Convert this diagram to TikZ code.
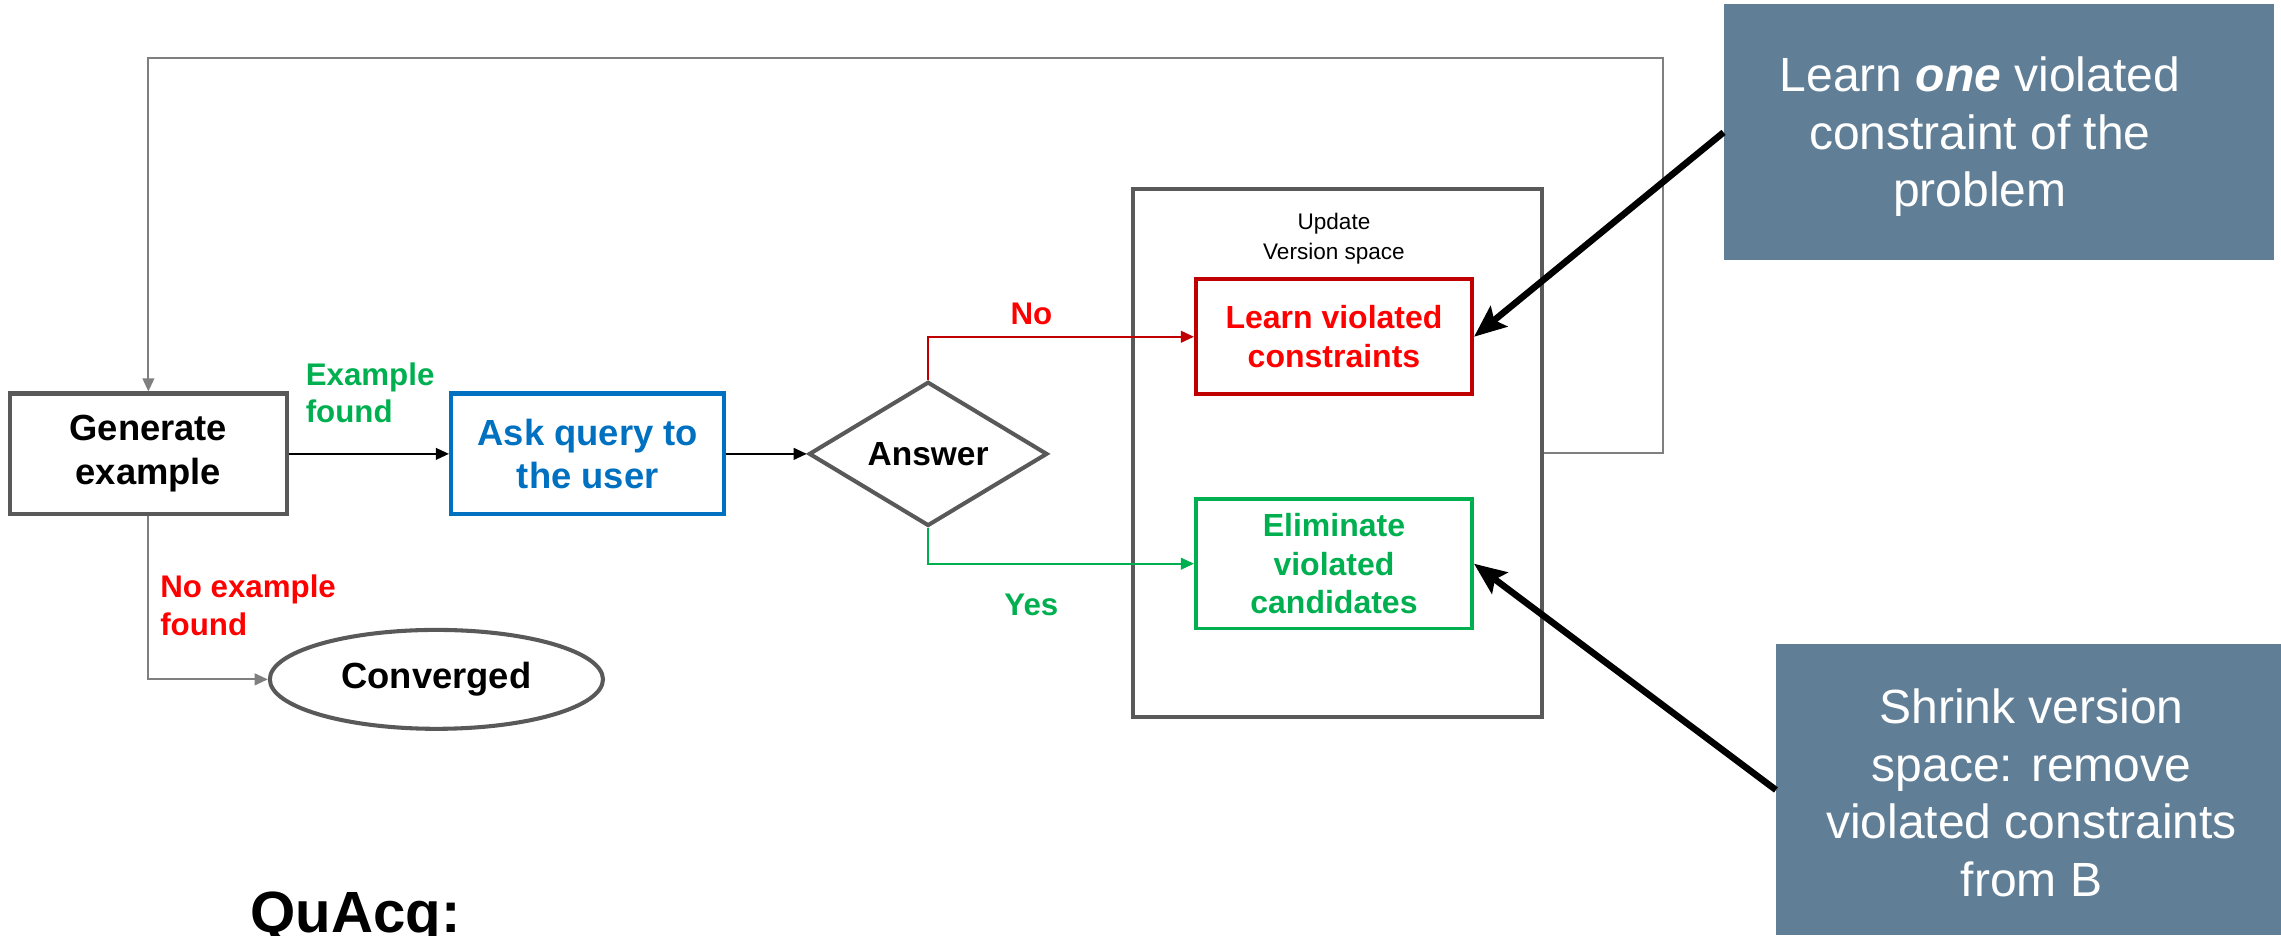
\documentclass[tikz,border=0pt]{standalone}
\usepackage{fontspec}
\setmainfont{Liberation Sans}
\usetikzlibrary{shapes.geometric,arrows.meta}
\definecolor{boxgray}{RGB}{89,89,89}
\definecolor{linegray}{RGB}{127,127,127}
\definecolor{askblue}{RGB}{0,112,192}
\definecolor{darkred}{RGB}{192,0,0}
\definecolor{brightred}{RGB}{255,0,0}
\definecolor{okgreen}{RGB}{0,176,80}
\definecolor{slate}{RGB}{96,126,150}
\tikzset{
  flowbox/.style={draw, line width=2.8pt, rectangle, align=center, inner sep=0pt},
  conn/.style={line width=1.4pt, -{Triangle[length=9pt,width=8pt]}},
  callout/.style={fill=slate, inner sep=0pt},
  callouttext/.style={text=white, align=center, inner sep=0pt,
    font=\fontsize{33}{39.5}\selectfont},
  bigarrow/.style={line width=4.5pt, -{Stealth[length=22pt,width=18pt,inset=4pt]}},
  lbl/.style={align=left, inner sep=0pt, font=\fontsize{21.5}{26}\selectfont\bfseries}
}
\begin{document}
\begin{tikzpicture}[x=1pt,y=-1pt]
\useasboundingbox (0,0) rectangle (1568,643);

% main nodes
\node[flowbox, draw=boxgray, minimum width=190, minimum height=83,
      font=\fontsize{25}{30}\selectfont\bfseries] (gen) at (102,312) {Generate\\example};
\node[flowbox, draw=askblue, text=askblue, minimum width=188, minimum height=83,
      font=\fontsize{25}{30}\selectfont\bfseries] (ask) at (404,312) {Ask query to\\the user};
\node[diamond, draw=boxgray, line width=2.8pt, minimum width=164, minimum height=97,
      inner sep=0pt, font=\fontsize{23}{27}\selectfont\bfseries] (ans) at (638,312) {Answer};
\node[ellipse, draw=boxgray, line width=2.8pt, minimum width=229, minimum height=68,
      inner sep=0pt, font=\fontsize{25}{30}\selectfont\bfseries] (conv) at (300,467) {Converged};

% version space container
\node[draw=boxgray, line width=2.6pt, minimum width=281, minimum height=363, inner sep=0pt]
      (vs) at (919.5,311.5) {};
\node[align=center, inner sep=0pt, font=\fontsize{15.5}{21}\selectfont] (vstitle) at (917,164)
      {Update\\Version space};
\node[flowbox, draw=darkred, text=brightred, line width=2.5pt, minimum width=190, minimum height=79,
      font=\fontsize{22}{27}\selectfont\bfseries] (learn) at (917,231.5) {Learn violated\\constraints};
\node[flowbox, draw=okgreen, text=okgreen, line width=2.5pt, minimum width=190, minimum height=89,
      font=\fontsize{22}{26.5}\selectfont\bfseries] (elim) at (917,387.5) {Eliminate\\violated\\candidates};

% callouts
\node[callout, minimum width=378, minimum height=176,
      label={[callouttext, xshift=-13pt, yshift=-3pt]center:{Learn \textbf{\textit{one}} violated\\constraint of the\\problem}}]
      (c1) at (1374,91) {};
\node[callout, minimum width=347, minimum height=200,
      label={[callouttext, xshift=2pt, yshift=-2pt]center:{Shrink version\\space: remove\\violated constraints\\from B}}]
      (c2) at (1394.5,543) {};

% connectors
\coordinate (loopR) at (1143,40);
\draw[line width=1.4pt, color=linegray, -{Triangle[length=9pt,width=8pt]}]
      (vs.east) -| (loopR) -| (gen.north);
\draw[conn, color=black] (gen.east) -- (ask.west);
\draw[conn, color=black] (ask.east) -- (ans.west);
\draw[conn, color=darkred] (ans.north) |- (learn.west);
\draw[conn, color=okgreen] (ans.south) |- (elim.west);
\draw[conn, color=linegray] (gen.south) |- (conv.west);

\draw[bigarrow] (c1.west) -- (learn.east);
\draw[bigarrow] (c2.west) -- (elim.east);

% labels
\node[lbl, text=okgreen, anchor=west] (lblex) at (210,270) {Example\\found};
\node[lbl, text=brightred, anchor=west] (lblnoex) at (110,416) {No example\\found};
\node[lbl, text=brightred] (lblno) at (709,216) {No};
\node[lbl, text=okgreen] (lblyes) at (709,416) {Yes};

\node[anchor=base west, inner sep=0pt, font=\fontsize{40}{48}\selectfont\bfseries] (title) at (172,641) {QuAcq:};
\end{tikzpicture}
\end{document}
